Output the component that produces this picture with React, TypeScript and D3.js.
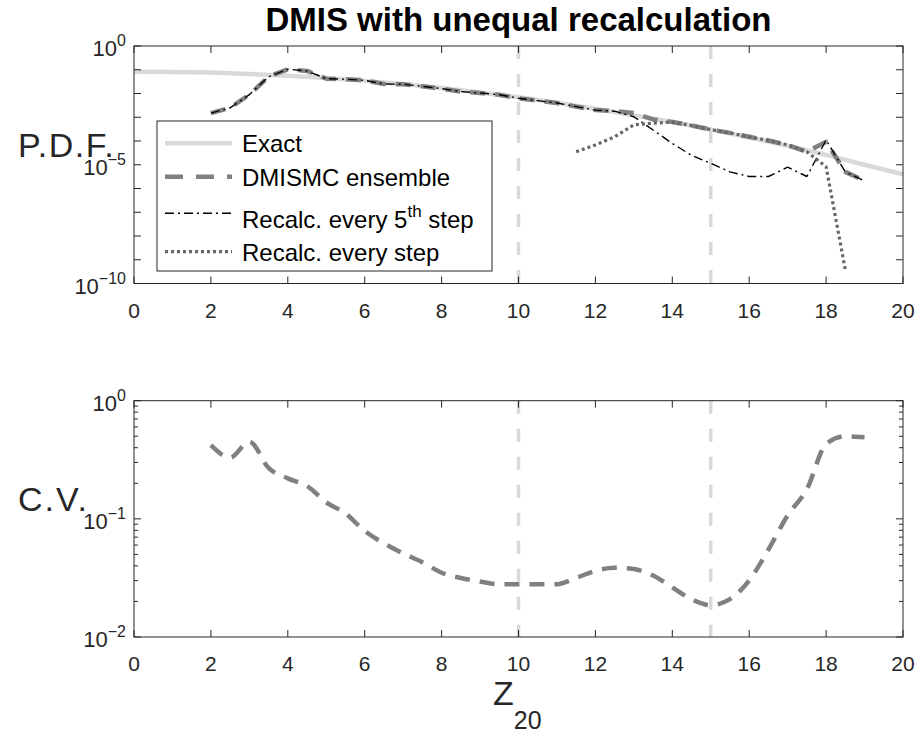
import React from "react";
import * as d3 from "d3";

// ---- data ----
const zExact = [0, 1, 2, 3, 4, 5, 6, 7, 8, 9, 10, 11, 12, 13, 14, 15, 16, 17, 18, 19, 20];
const pdfExact = [8.3e-2, 8.1e-2, 7.6e-2, 6.6e-2, 5.6e-2, 4.5e-2, 3.4e-2, 2.5e-2, 1.7e-2, 1.1e-2,
  6.9e-3, 4.1e-3, 2.3e-3, 1.2e-3, 6.3e-4, 3.1e-4, 1.4e-4, 6.3e-5, 2.6e-5, 1.0e-5, 4.0e-6];

const zEns = [2, 2.5, 3, 3.5, 4, 4.5, 5, 5.5, 6, 6.5, 7, 7.5, 8, 8.5, 9, 9.5, 10, 10.5, 11, 11.5,
  12, 12.5, 13, 13.5, 14, 14.5, 15, 15.5, 16, 16.5, 17, 17.5, 18, 18.5, 19];
const pdfEnsemble = [1.5e-3, 2.5e-3, 8.9e-3, 5.1e-2, 1.05e-1, 8.9e-2, 4.2e-2, 4.0e-2, 3.6e-2, 2.5e-2,
  2.45e-2, 2.0e-2, 1.6e-2, 1.2e-2, 1.05e-2, 8.9e-3, 6.3e-3, 5.0e-3, 4.0e-3, 2.8e-3,
  2.0e-3, 1.8e-3, 1.5e-3, 8.1e-4, 6.3e-4, 4.5e-4, 3.0e-4, 2.2e-4, 1.5e-4, 1.05e-4,
  6.8e-5, 3.5e-5, 9.3e-5, 5.0e-6, 2.1e-6];
const pdfEvery5th = [1.5e-3, 2.5e-3, 8.9e-3, 5.1e-2, 1.05e-1, 8.9e-2, 4.2e-2, 4.0e-2, 3.6e-2, 2.5e-2,
  2.45e-2, 2.0e-2, 1.6e-2, 1.2e-2, 1.05e-2, 8.9e-3, 6.3e-3, 5.0e-3, 4.0e-3, 2.8e-3,
  2.0e-3, 1.8e-3, 1.05e-3, 2.9e-4, 7.9e-5, 2.5e-5, 1.15e-5, 5.0e-6, 3.2e-6, 3.2e-6,
  7.9e-6, 3.2e-6, 1.1e-4, 5.0e-6, 2.1e-6];

const zEvery = [11.5, 12, 12.5, 13, 13.5, 14, 14.5, 15, 15.5, 16, 16.5, 17, 17.5, 18, 18.5];
const pdfEveryStep = [3.5e-5, 6.8e-5, 1.5e-4, 4.8e-4, 5.6e-4, 6.3e-4, 4.5e-4, 3.0e-4, 2.2e-4,
  1.5e-4, 1.05e-4, 6.8e-5, 3.5e-5, 8.3e-6, 3.7e-10];

const cvEnsemble = [0.42, 0.33, 0.45, 0.27, 0.22, 0.19, 0.138, 0.111, 0.079, 0.062,
  0.051, 0.043, 0.035, 0.0316, 0.0295, 0.0279, 0.0279, 0.0279, 0.028, 0.0316,
  0.0363, 0.0385, 0.0376, 0.0331, 0.0263, 0.0209, 0.0186, 0.0209, 0.0302, 0.055,
  0.107, 0.178, 0.43, 0.50, 0.49];

const xTicks = [0, 2, 4, 6, 8, 10, 12, 14, 16, 18, 20];
const markerZ = [10, 15];
const pdfTickExps = [0, -5, -10];
const cvTickExps = [0, -1, -2];
const legendLabels = ["Exact", "DMISMC ensemble", "Recalc. every 5", "Recalc. every step"];

// ---- layout ----
const W = 918, H = 736;
const left = 134, right = 903;
const top1 = 46, bot1 = 283.5;
const top2 = 400.7, bot2 = 637;
const AX = "#262626";
const FONT = "'Liberation Sans', Arial, Helvetica, sans-serif";

const x = d3.scaleLinear().domain([0, 20]).range([left, right]);
const y1 = d3.scaleLog().domain([1e-10, 1]).range([bot1, top1]);
const y2 = d3.scaleLog().domain([1e-2, 1]).range([bot2, top2]);

const lineGen = (ys: d3.ScaleLogarithmic<number, number>, curve = d3.curveLinear) =>
  d3.line<[number, number]>().x((d) => x(d[0])).y((d) => ys(d[1])).curve(curve);

const zip = (a: number[], b: number[]) => a.map((v, i) => [v, b[i]] as [number, number]);

const expText = (e: number) => (e < 0 ? "\u2212" + Math.abs(e) : String(e));

function Frame({ top, bot, y, minor }: { top: number; bot: number; y: d3.ScaleLogarithmic<number, number>; minor: boolean }) {
  const [lo, hi] = y.domain();
  const decades: number[] = [];
  for (let e = Math.round(Math.log10(lo)); e <= Math.round(Math.log10(hi)); e++) decades.push(e);
  const minors: number[] = [];
  if (minor) {
    decades.slice(0, -1).forEach((e) => {
      for (let k = 2; k <= 9; k++) minors.push(k * Math.pow(10, e));
    });
  }
  const tl = 7, tm = 4;
  return (
    <g stroke={AX} strokeWidth={1} fill="none">
      <rect x={left} y={top} width={right - left} height={bot - top} />
      {xTicks.map((t) => (
        <g key={"x" + t}>
          <line x1={x(t)} x2={x(t)} y1={bot} y2={bot - tl} />
          <line x1={x(t)} x2={x(t)} y1={top} y2={top + tl} />
        </g>
      ))}
      {decades.map((e) => (
        <g key={"d" + e}>
          <line x1={left} x2={left + tl} y1={y(Math.pow(10, e))} y2={y(Math.pow(10, e))} />
          <line x1={right} x2={right - tl} y1={y(Math.pow(10, e))} y2={y(Math.pow(10, e))} />
        </g>
      ))}
      {minors.map((v) => (
        <g key={"m" + v}>
          <line x1={left} x2={left + tm} y1={y(v)} y2={y(v)} />
          <line x1={right} x2={right - tm} y1={y(v)} y2={y(v)} />
        </g>
      ))}
    </g>
  );
}

function TickLabels({ bot, y, exps }: { bot: number; y: d3.ScaleLogarithmic<number, number>; exps: number[] }) {
  return (
    <g fontFamily={FONT} fill={AX}>
      {xTicks.map((t) => (
        <text key={"xl" + t} x={x(t)} y={bot + 34} fontSize={21} textAnchor="middle">{t}</text>
      ))}
      {exps.map((e) => (
        <text key={"yl" + e} x={126} y={y(Math.pow(10, e)) + 10} fontSize={22} textAnchor="end">
          10<tspan dy={-10} fontSize={16}>{expText(e)}</tspan>
        </text>
      ))}
    </g>
  );
}

function Markers({ top, bot }: { top: number; bot: number }) {
  return (
    <g stroke="#d9d9d9" strokeWidth={3.5} strokeDasharray="13 15">
      {markerZ.map((m) => (
        <line key={m} x1={x(m)} x2={x(m)} y1={top} y2={bot} />
      ))}
    </g>
  );
}

export default function App() {
  const l1 = lineGen(y1);
  const l2 = lineGen(y2, d3.curveMonotoneX);
  const legX = 157, legY = 121, legW = 335, legH = 150;
  const rows = [143.3, 176.7, 213.3, 251.7];
  const sx1 = 165, sx2 = 232, tx = 242;
  return (
    <svg width={W} height={H} style={{ position: "absolute", left: 0, top: 0, background: "#fff" }}>
      <rect width={W} height={H} fill="#fff" />
      <text x={(left + right) / 2} y={31} textAnchor="middle" fontFamily={FONT} fontWeight="bold" fontSize={33} fill="#000">
        DMIS with unequal recalculation
      </text>

      {/* upper panel: probability density */}
      <g>
        <Markers top={top1} bot={bot1} />
        <g fill="none" strokeLinecap="butt" strokeLinejoin="round">
          <path d={l1(zip(zExact, pdfExact)) || ""} stroke="#d9d9d9" strokeWidth={4.5} />
          <path d={l1(zip(zEns, pdfEnsemble)) || ""} stroke="#808080" strokeWidth={4.5} strokeDasharray="15 10" />
          <path d={l1(zip(zEns, pdfEvery5th)) || ""} stroke="#000" strokeWidth={1.4} strokeDasharray="9 4 2 4" />
          <path d={l1(zip(zEvery, pdfEveryStep)) || ""} stroke="#666" strokeWidth={3.2} strokeDasharray="3 3" />
        </g>
        <Frame top={top1} bot={bot1} y={y1} minor={false} />
        <TickLabels bot={bot1} y={y1} exps={pdfTickExps} />
        <text x={18} y={157} fontFamily={FONT} fontSize={34} letterSpacing={1.5} fill={AX}>P.D.F.</text>

        {/* legend */}
        <g>
          <rect x={legX} y={legY} width={legW} height={legH} fill="#fff" stroke={AX} strokeWidth={1} />
          <line x1={sx1} x2={sx2} y1={rows[0]} y2={rows[0]} stroke="#d9d9d9" strokeWidth={4.5} />
          <line x1={sx1} x2={sx2} y1={rows[1]} y2={rows[1]} stroke="#808080" strokeWidth={4.5} strokeDasharray="18 13" />
          <line x1={sx1} x2={sx2} y1={rows[2]} y2={rows[2]} stroke="#000" strokeWidth={1.4} strokeDasharray="9 4 2 4" />
          <line x1={sx1} x2={sx2} y1={rows[3]} y2={rows[3]} stroke="#666" strokeWidth={3.2} strokeDasharray="3 3" />
          <g fontFamily={FONT} fontSize={24} fill="#000">
            <text x={tx} y={rows[0] + 9}>{legendLabels[0]}</text>
            <text x={tx} y={rows[1] + 9}>{legendLabels[1]}</text>
            <text x={tx} y={rows[2] + 15}>
              {legendLabels[2]}
              <tspan dy={-11} fontSize={17}>th</tspan>
              <tspan dy={11}> step</tspan>
            </text>
            <text x={tx} y={rows[3] + 9}>{legendLabels[3]}</text>
          </g>
        </g>
      </g>

      {/* lower panel: coefficient of variation */}
      <g>
        <Markers top={top2} bot={bot2} />
        <path d={l2(zip(zEns, cvEnsemble)) || ""} fill="none" stroke="#808080" strokeWidth={4.5} strokeDasharray="15 10" />
        <Frame top={top2} bot={bot2} y={y2} minor={true} />
        <TickLabels bot={bot2} y={y2} exps={cvTickExps} />
        <text x={18} y={511} fontFamily={FONT} fontSize={34} letterSpacing={2} fill={AX}>C.V.</text>
        <text x={493} y={705} fontFamily={FONT} fontSize={34} fill={AX}>
          Z<tspan dy={24} fontSize={25}>20</tspan>
        </text>
      </g>
    </svg>
  );
}
